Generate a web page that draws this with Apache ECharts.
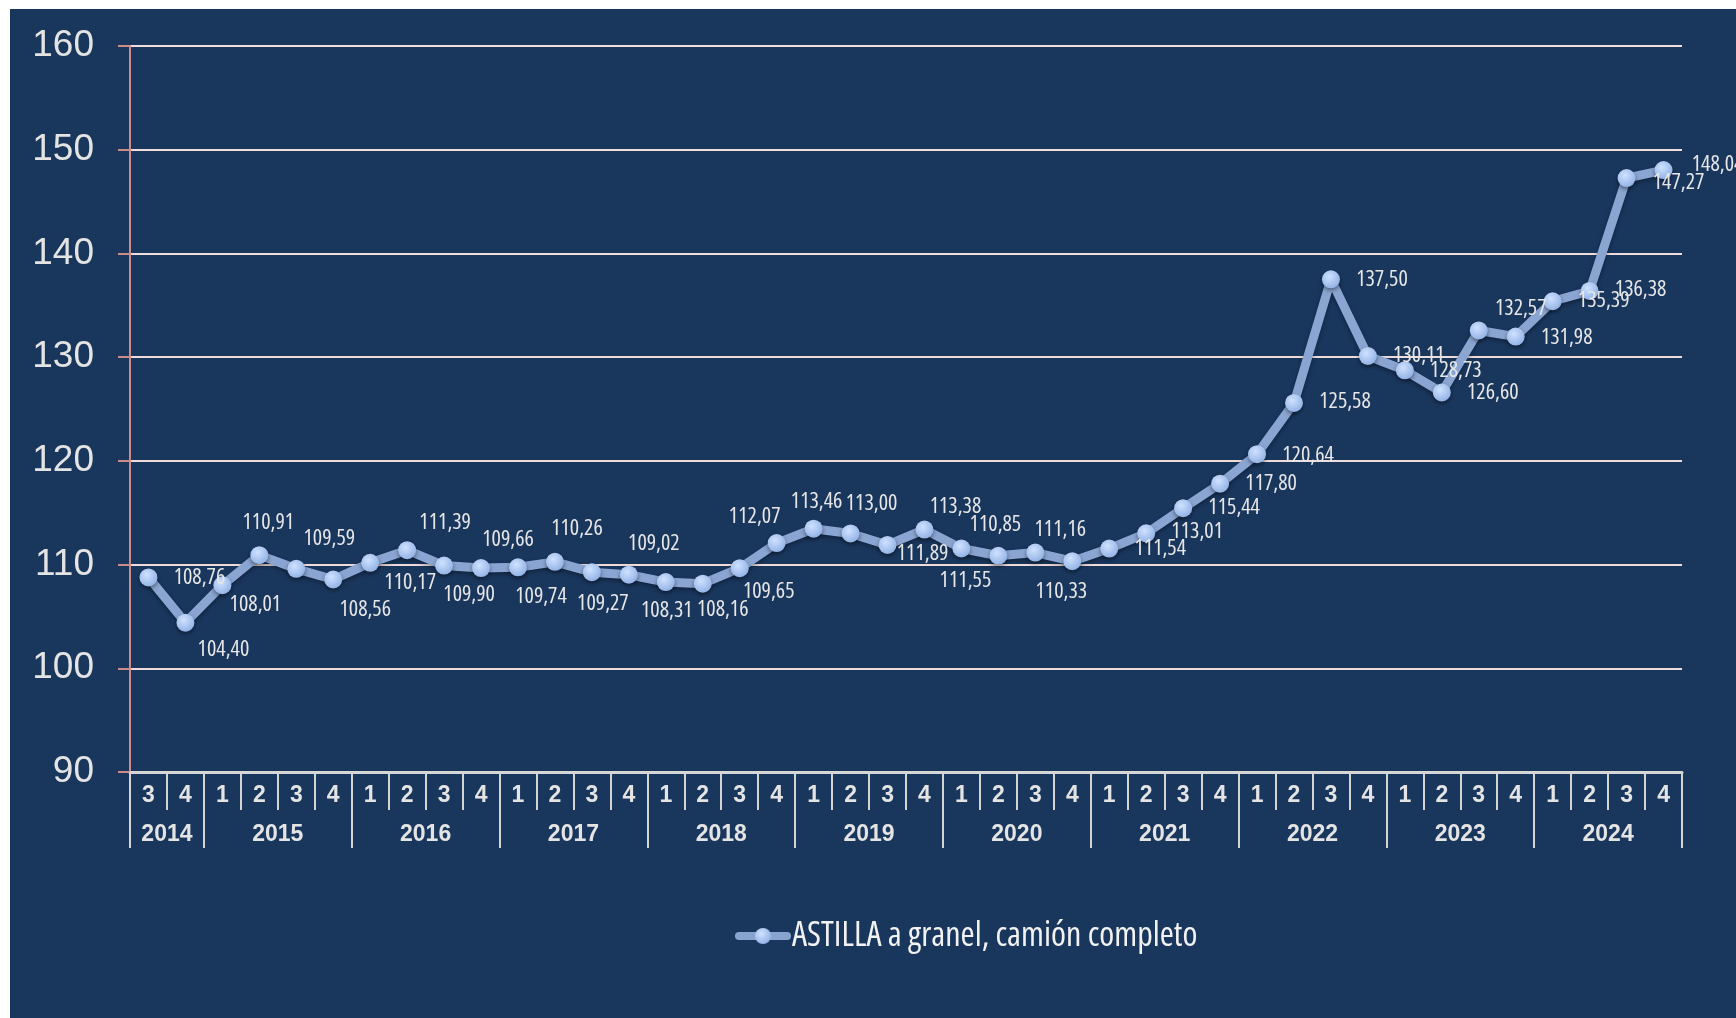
<!DOCTYPE html>
<html>
<head>
<meta charset="utf-8">
<script src="https://cdn.jsdelivr.net/npm/echarts@6/dist/echarts.min.js"></script>
<style>
html,body{margin:0;padding:0;background:#ffffff;width:1736px;height:1018px;overflow:hidden;}
#chart{position:absolute;left:10px;top:9px;width:1726px;height:1009px;background:#19365d;}
</style>
</head>
<body>
<div id="chart"></div>
<script>
// ---- data ----
const quarterLabels = ['3','4',
  '1','2','3','4', '1','2','3','4', '1','2','3','4', '1','2','3','4', '1','2','3','4',
  '1','2','3','4', '1','2','3','4', '1','2','3','4', '1','2','3','4', '1','2','3','4'];
const yearOfCategory = ['2014','2014',
  '2015','2015','2015','2015', '2016','2016','2016','2016', '2017','2017','2017','2017',
  '2018','2018','2018','2018', '2019','2019','2019','2019', '2020','2020','2020','2020',
  '2021','2021','2021','2021', '2022','2022','2022','2022', '2023','2023','2023','2023',
  '2024','2024','2024','2024'];
const astillaValues = [108.76, 104.40, 108.01, 110.91, 109.59, 108.56, 110.17, 111.39, 109.90, 109.66,
  109.74, 110.26, 109.27, 109.02, 108.31, 108.16, 109.65, 112.07, 113.46, 113.00,
  111.89, 113.38, 111.55, 110.85, 111.16, 110.33, 111.54, 113.01, 115.44, 117.80,
  120.64, 125.58, 137.50, 130.11, 128.73, 126.60, 132.57, 131.98, 135.39, 136.38,
  147.27, 148.04];
const yTicks = [90, 100, 110, 120, 130, 140, 150, 160];
const seriesName = 'ASTILLA a granel, camión completo';

// ---- layout (label offsets from each point, px) ----
const labelOffsets = [
  [51,0],[38,27],[33,20],[9,-32],[33,-30],[32,30],[40,20],[38,-27],[25,29],[27,-28],
  [23,29],[22,-33],[11,32],[25,-31],[1,29],[20,26],[29,24],[-22,-26],[3,-27],[21,-30],
  [35,9],[31,-23],[4,32],[-3,-31],[25,-23],[-11,31],[51,0],[51,-2],[51,0],[51,0],
  [51,2],[51,-1],[51,0],[51,0],[51,0],[51,0],[42,-22],[51,1],[51,-1],[51,-1],
  [52,5],[54,-5]
];

// year boundaries and centres derived from the category years
const yearBounds = [0];
const yearCenters = [];
const yearNames = [];
let start = 0;
for (let i = 1; i <= yearOfCategory.length; i++) {
  if (i === yearOfCategory.length || yearOfCategory[i] !== yearOfCategory[i - 1]) {
    yearBounds.push(i);
    yearCenters.push((start + i) / 2);
    yearNames.push(yearOfCategory[start]);
    start = i;
  }
}

const fmt = v => v.toFixed(2).replace('.', ',');

const seriesData = astillaValues.map((v, i) => ({
  value: v,
  label: { offset: labelOffsets[i] }
}));

const chart = echarts.init(document.getElementById('chart'), null, { renderer: 'canvas' });

const axisTextColor = '#e4e4e4';
const tickColor = '#d4d4d4';
const condensedFamily = '"Open Sans", "Roboto Condensed", sans-serif';

chart.setOption({
  animation: false,
  backgroundColor: '#19365d',
  grid: { left: 120, right: 54, top: 37, bottom: 246, containLabel: false, outerBoundsMode: 'none' },
  legend: {
    show: true,
    left: 720,
    top: 905,
    itemWidth: 48,
    itemHeight: 20,
    itemGap: 10,
    lineStyle: { width: 8, color: '#88a3cf', cap: 'round' },
    textStyle: { color: '#f2f2f2', fontFamily: condensedFamily, fontStyle: 'condensed', fontSize: 34 },
    data: [seriesName]
  },
  xAxis: [
    {
      type: 'category',
      data: quarterLabels,
      boundaryGap: true,
      position: 'bottom',
      axisLine: { show: true, onZero: false, lineStyle: { color: '#d6d6d6', width: 3 } },
      axisTick: { show: true, interval: 0, alignWithLabel: false, length: 38, lineStyle: { color: tickColor, width: 2 } },
      axisLabel: {
        show: true, interval: 0, margin: 12,
        color: axisTextColor, fontFamily: '"Liberation Sans", Arial, sans-serif', fontWeight: 'bold', fontSize: 23
      },
      splitLine: { show: false }
    },
    {
      type: 'value',
      min: 0,
      max: quarterLabels.length,
      position: 'bottom',
      offset: 0,
      axisLine: { show: false },
      axisTick: { show: true, customValues: yearBounds, length: 76, lineStyle: { color: tickColor, width: 2 } },
      axisLabel: {
        show: true, customValues: yearCenters, margin: 51,
        color: axisTextColor, fontFamily: '"Liberation Sans", Arial, sans-serif', fontWeight: 'bold', fontSize: 23,
        formatter: v => yearNames[yearCenters.indexOf(v)] || ''
      },
      splitLine: { show: false }
    }
  ],
  yAxis: {
    type: 'value',
    min: 90,
    max: 160,
    interval: 10,
    axisLine: { show: true, lineStyle: { color: '#cf8a8a', width: 2 } },
    axisTick: { show: true, length: 12, lineStyle: { color: '#cf8a8a', width: 2 } },
    axisLabel: {
      margin: 36, color: axisTextColor, fontSize: 37,
      fontFamily: '"Liberation Sans", Arial, sans-serif',
      formatter: v => yTicks.includes(v) ? String(v) : ''
    },
    splitLine: { show: true, lineStyle: { color: '#f1dcdc', width: 2 } }
  },
  series: [{
    name: seriesName,
    type: 'line',
    xAxisIndex: 0,
    yAxisIndex: 0,
    data: seriesData,
    symbol: 'circle',
    symbolSize: 18,
    z: 3,
    lineStyle: { color: '#8aa5d2', width: 9, shadowBlur: 4, shadowColor: 'rgba(0,0,0,0.35)', shadowOffsetY: 2 },
    itemStyle: {
      color: new echarts.graphic.RadialGradient(0.4, 0.35, 0.7, [
        { offset: 0, color: '#cfe2ff' },
        { offset: 1, color: '#8fb0e4' }
      ]),
      borderWidth: 0,
      shadowBlur: 4,
      shadowColor: 'rgba(0,0,0,0.45)',
      shadowOffsetY: 2
    },
    label: {
      show: true,
      position: 'inside',
      align: 'center',
      verticalAlign: 'middle',
      color: '#e6e6e6',
      fontSize: 22,
      fontStyle: 'condensed',
      fontFamily: condensedFamily,
      formatter: p => fmt(p.value)
    },
    emphasis: { disabled: true }
  }]
});
</script>
</body>
</html>
